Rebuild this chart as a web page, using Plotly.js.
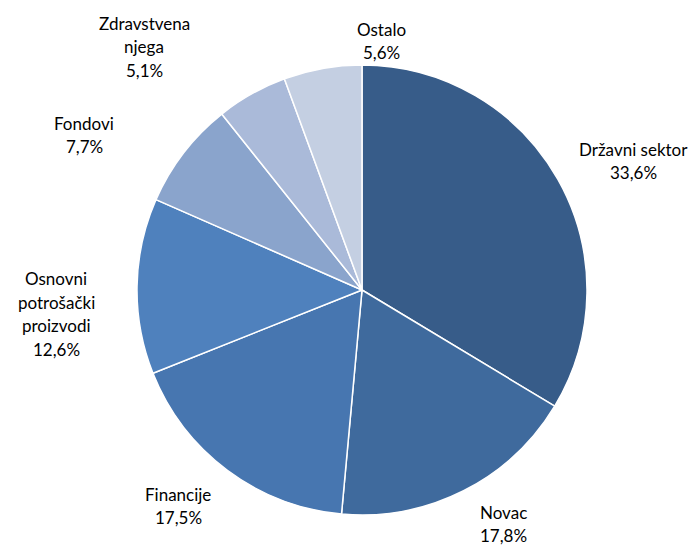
<!DOCTYPE html>
<html>
<head>
<meta charset="utf-8">
<script src="https://cdn.plot.ly/plotly-3.0.1.min.js"></script>
<style>html,body{margin:0;padding:0;background:#fff;}#chart{width:692px;height:547px;}</style>
</head>
<body>
<div id="chart"></div>
<script>
const categories = ["Državni sektor", "Novac", "Financije", "Osnovni potrošački proizvodi", "Fondovi", "Zdravstvena njega", "Ostalo"];
const labelLines = [["Državni sektor"], ["Novac"], ["Financije"], ["Osnovni", "potrošački", "proizvodi"], ["Fondovi"], ["Zdravstvena", "njega"], ["Ostalo"]];
const values = [33.6, 17.8, 17.5, 12.6, 7.7, 5.1, 5.6];
const percentText = ["33,6%", "17,8%", "17,5%", "12,6%", "7,7%", "5,1%", "5,6%"];
const colors = ["#375c89", "#3f6a9d", "#4776b0", "#4f81bd", "#8aa4cc", "#aabad9", "#c4cfe2"];

// Label block centres in pixels (layout only)
const labelCentres = [[633, 161], [503, 524], [178, 506], [56, 314], [84, 135], [144, 47], [381, 41]];

const W = 692, H = 547, cx = 362, cy = 290, R = 225;
const lineStep = 23.5;

const annotations = [];
categories.forEach((c, i) => {
  const lines = labelLines[i].concat([percentText[i]]);
  const [px, py] = labelCentres[i];
  const n = lines.length;
  lines.forEach((t, k) => {
    const y = py + (k - (n - 1) / 2) * lineStep;
    annotations.push({
      text: t, x: px / W, y: 1 - y / H, xref: 'paper', yref: 'paper',
      showarrow: false, xanchor: 'center', yanchor: 'middle',
      font: {family: 'Lato, "Open Sans", sans-serif', size: 17, color: '#000'}
    });
  });
});

const data = [{
  type: 'pie',
  labels: categories,
  values: values,
  sort: false,
  direction: 'clockwise',
  rotation: 0,
  textinfo: 'none',
  hoverinfo: 'label+percent',
  marker: {colors: colors, line: {color: '#ffffff', width: 1.5}},
  domain: {x: [(cx - R) / W, (cx + R) / W], y: [(H - cy - R) / H, (H - cy + R) / H]},
  showlegend: false
}];

const layout = {
  width: W, height: H,
  margin: {l: 0, r: 0, t: 0, b: 0},
  paper_bgcolor: '#fff',
  plot_bgcolor: '#fff',
  showlegend: false,
  annotations: annotations
};

Plotly.newPlot('chart', data, layout, {displayModeBar: false, staticPlot: true});
</script>
</body>
</html>
